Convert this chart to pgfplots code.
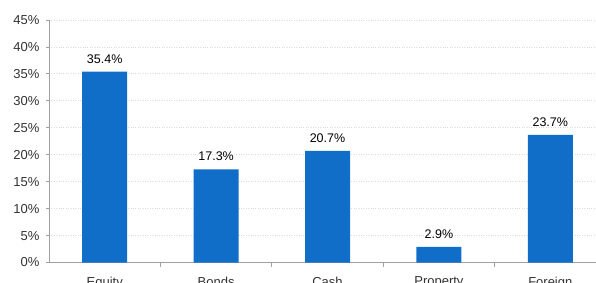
\documentclass[border=0pt]{standalone}
\usepackage{pgfplots}
\pgfplotsset{compat=1.18}
\usetikzlibrary{calc}
\usepackage{fontspec}
\setmainfont{Liberation Sans}
\definecolor{barblue}{RGB}{17,110,200}
\definecolor{axgray}{RGB}{160,160,160}
\definecolor{gridgray}{RGB}{220,220,220}
\definecolor{ticktext}{RGB}{50,50,50}
\begin{document}
\begin{tikzpicture}[x=1pt,y=1pt]
\begin{axis}[
  scale only axis, width=557pt, height=242.5pt,
  xmin=-0.5, xmax=4.5, ymin=0, ymax=45,
  /pgf/number format/assume math mode=true,
  axis x line*=bottom, axis y line*=left,
  axis line style={axgray, line width=0.8pt},
  x axis line style={-}, y axis line style={-},
  xtick={0,1,2,3,4},
  xticklabels={Equity,Bonds,Cash,Property,Foreign},
  minor xtick={0.5,1.5,2.5,3.5},
  major x tick style={draw=none},
  minor x tick style={axgray, line width=0.8pt},
  minor tick length=4pt,
  ytick={0,5,...,45},
  yticklabel={\pgfmathprintnumber{\tick}\%},
  y tick style={axgray, line width=0.8pt},
  major tick length=3pt,
  tick align=outside,
  ymajorgrids,
  grid style={gridgray, dotted, line width=0.8pt},
  ticklabel style={font=\fontsize{13}{15}\selectfont, text=ticktext},
  yticklabel style={xshift=-3pt},
  xticklabel style={yshift=-8pt},
  ybar, bar width=45pt,
  nodes near coords={\pgfmathprintnumber[fixed,fixed zerofill,precision=1]{\pgfplotspointmeta}\%},
  nodes near coords style={font=\fontsize{12.5}{14}\selectfont, text=black, yshift=5pt},
]
\addplot[fill=barblue, draw=none] coordinates {(0,35.4) (1,17.3) (2,20.7) (3,2.9) (4,23.7)};
\coordinate (o) at (axis cs:-0.5,0);
\end{axis}
\pgfresetboundingbox
\path[use as bounding box] ($(o)+(-49,-19.5)$) rectangle ($(o)+(547,262.5)$);
\end{tikzpicture}
\end{document}
